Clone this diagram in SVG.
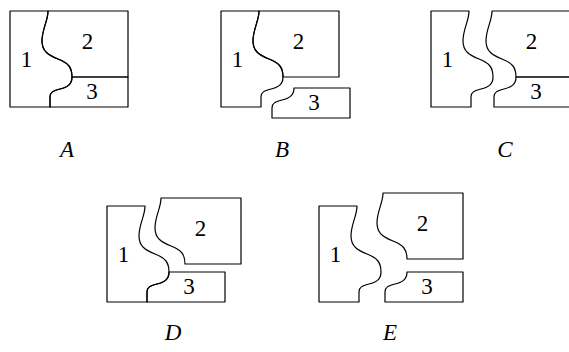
<svg xmlns="http://www.w3.org/2000/svg" xmlns:xlink="http://www.w3.org/1999/xlink" width="569" height="352" viewBox="0 0 569 352">
<style>
.p{fill:none;stroke:#000;stroke-width:1.2;stroke-linejoin:round}
.n{font-family:"Liberation Serif","DejaVu Serif",serif;font-size:23px;text-anchor:middle;fill:#000}
.l{font-family:"Liberation Serif","DejaVu Serif",serif;font-size:23px;font-style:italic;text-anchor:middle;fill:#000}
</style>
<defs>
<path id="p1" class="p" d="M0,0 L38,0 C38,10 32,18 32,30 C32,40 38,44 48,48 C58,52 62,56 62,66 C62,73 58,76 50,78 C43,80 40,81 40,86 L40,96 L0,96 Z"/>
<path id="p2" class="p" d="M38,0 L118,0 L118,66 L62,66 C62,56 58,52 48,48 C38,44 32,40 32,30 C32,18 38,10 38,0 Z"/>
<path id="p3" class="p" d="M62,66 L118,66 L118,96 L40,96 L40,86 C40,81 43,80 50,78 C58,76 62,73 62,66 Z"/>
</defs>
<g id="figA" transform="translate(10,11)">
<use xlink:href="#p1"/><use xlink:href="#p2"/><use xlink:href="#p3"/>
<text class="n" x="16.5" y="55.5">1</text><text class="n" x="77.5" y="37.5">2</text><text class="n" x="82" y="88">3</text>
</g>
<g id="figB" transform="translate(221,11)">
<use xlink:href="#p1"/><use xlink:href="#p2"/><use xlink:href="#p3" transform="translate(11,11)"/>
<text class="n" x="16.5" y="55.5">1</text><text class="n" x="77.5" y="37.5">2</text><text class="n" x="93" y="99">3</text>
</g>
<g id="figC" transform="translate(431,11)">
<use xlink:href="#p1"/><use xlink:href="#p2" transform="translate(23,0)"/><use xlink:href="#p3" transform="translate(23,0)"/>
<text class="n" x="16.5" y="55.5">1</text><text class="n" x="100.5" y="37.5">2</text><text class="n" x="105" y="88">3</text>
</g>
<g id="figD" transform="translate(107,206)">
<use xlink:href="#p1"/><use xlink:href="#p2" transform="translate(16,-8)"/><use xlink:href="#p3"/>
<text class="n" x="16.5" y="55.5">1</text><text class="n" x="93.5" y="29.5">2</text><text class="n" x="82" y="88">3</text>
</g>
<g id="figE" transform="translate(319,206)">
<use xlink:href="#p1"/><use xlink:href="#p2" transform="translate(26,-13)"/><use xlink:href="#p3" transform="translate(26,0)"/>
<text class="n" x="16.5" y="55.5">1</text><text class="n" x="103.5" y="24.5">2</text><text class="n" x="108" y="88">3</text>
</g>
<g id="labels">
<text class="l" x="67" y="157">A</text>
<text class="l" x="282" y="157">B</text>
<text class="l" x="505" y="157">C</text>
<text class="l" x="173" y="340">D</text>
<text class="l" x="390" y="340">E</text>
</g>
</svg>
